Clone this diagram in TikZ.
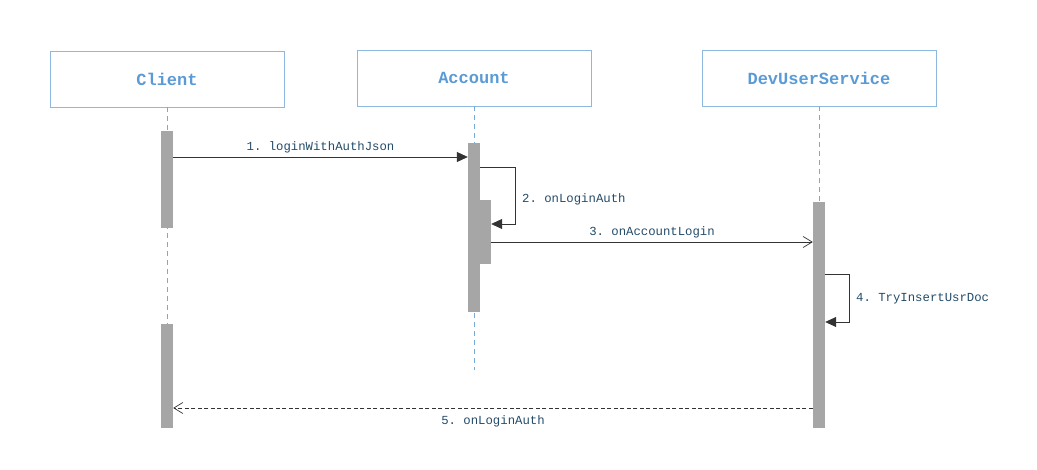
\documentclass[tikz,border=0pt]{standalone}
\usepackage{fontspec}
\setmonofont{Liberation Mono}
\usetikzlibrary{arrows.meta}
\definecolor{boxline}{RGB}{141,184,224}
\definecolor{headtext}{RGB}{91,155,213}
\definecolor{bar}{RGB}{166,166,166}
\definecolor{msgline}{RGB}{51,51,51}
\definecolor{lbl}{RGB}{35,75,105}
\definecolor{life}{RGB}{120,170,215}
\tikzset{
  actor/.style={draw=boxline, line width=0.8pt, minimum width=234pt, minimum height=56pt, inner sep=0pt,
    font=\ttfamily\bfseries\fontsize{17}{20}\selectfont, text=headtext},
  actbar/.style={fill=bar, draw=none, inner sep=0pt, minimum width=12pt},
  lifeline/.style={draw=life, dash pattern=on 5pt off 4pt, line width=0.6pt},
  msg/.style={draw=msgline, line width=0.8pt},
  sync/.style={msg, -{Triangle[length=11pt,width=10pt]}},
  async/.style={msg, -{Straight Barb[length=9pt,width=11pt,line width=0.7pt]}},
  reply/.style={async, dash pattern=on 4pt off 2.5pt},
  mlabel/.style={font=\ttfamily\fontsize{12.3}{14}\selectfont, text=lbl, inner sep=1pt}
}
\begin{document}
\begin{tikzpicture}[x=1pt,y=-1pt]
\useasboundingbox (0,0) rectangle (1037,470);
% actors
\node[actor] (client) at (167,79) {Client};
\node[actor] (account) at (474,78) {Account};
\node[actor] (dev) at (819,78) {DevUserService};
% lifelines
\coordinate (clEnd) at (167,430);
\coordinate (acEnd) at (474,370);
\coordinate (dvEnd) at (819,430);
\draw[lifeline] (client.south) -- (clEnd);
\draw[lifeline] (account.south) -- (acEnd);
\draw[lifeline] (dev.south) -- (dvEnd);
% activation bars
\node[actbar, minimum height=97pt] (c1) at (167,179.5) {};
\node[actbar, minimum height=104pt] (c2) at (167,376) {};
\node[actbar, minimum height=169pt] (a1) at (474,227.5) {};
\node[actbar, minimum width=11pt, minimum height=64pt] (a2) at (485.5,232) {};
\node[actbar, minimum height=226pt] (d1) at (819,315) {};
% message 1
\draw[sync] (c1.east |- 0,157) -- node[mlabel, above=3pt] {1. loginWithAuthJson} (a1.west |- 0,157);
% message 2 (self)
\coordinate (s2a) at (515,167);
\coordinate (s2b) at (515,224);
\draw[sync] (a1.east |- s2a) -- (s2a) -- (s2b) -- (a2.east |- s2b);
\node[mlabel, anchor=west] (l2) at (521,199) {2. onLoginAuth};
% message 3
\draw[async] (a2.east |- 0,242) -- node[mlabel, above=3pt] {3. onAccountLogin} (d1.west |- 0,242);
% message 4 (self)
\coordinate (s4a) at (849,274);
\coordinate (s4b) at (849,322);
\draw[sync] (d1.east |- s4a) -- (s4a) -- (s4b) -- (d1.east |- s4b);
\node[mlabel, anchor=west] (l4) at (855,299) {4. TryInsertUsrDoc};
% message 5
\draw[reply] (d1.west |- 0,408) -- node[mlabel, below=6pt] {5. onLoginAuth} (c2.east |- 0,408);
\end{tikzpicture}
\end{document}
